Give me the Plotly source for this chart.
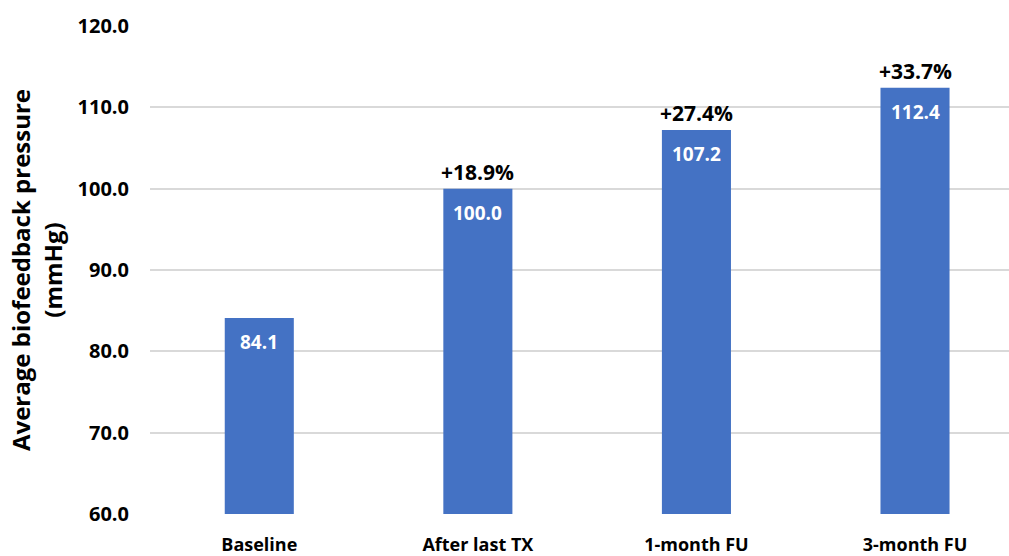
import plotly.graph_objects as go

categories = ["Baseline", "After last TX", "1-month FU", "3-month FU"]
values = [84.1, 100.0, 107.2, 112.4]
pct_labels = ["", "+18.9%", "+27.4%", "+33.7%"]
y_ticks = [60, 70, 80, 90, 100, 110, 120]

FONT = "Open Sans"

fig = go.Figure()
fig.add_trace(go.Bar(
    x=categories, y=values,
    marker=dict(color="#4472C4", line=dict(width=0)),
    cliponaxis=False,
))

for c, v, p in zip(categories, values, pct_labels):
    fig.add_annotation(x=c, y=v, text=f"<b>{v:.1f}</b>", showarrow=False,
                       yanchor="top", yshift=-9,
                       font=dict(size=19, color="white", family=FONT))
    if p:
        fig.add_annotation(x=c, y=v, text=f"<b>{p}</b>", showarrow=False,
                           yanchor="bottom", yshift=1,
                           font=dict(size=21, color="black", family=FONT))

fig.update_layout(
    width=1009, height=556,
    margin=dict(l=150, r=0, t=26, b=37),
    plot_bgcolor="white", paper_bgcolor="white",
    bargap=0.684,
    showlegend=False,
    font=dict(family=FONT, color="black"),
)
fig.update_xaxes(range=[-0.5, 3.43], showgrid=False, showline=False,
                 tickfont=dict(size=18, family=FONT, weight="bold", color="black"),
                 ticks="", ticklen=0, ticklabelstandoff=18)
fig.update_yaxes(range=[60, 120], tickvals=y_ticks,
                 ticktext=[f"{t:.1f}" for t in y_ticks],
                 showgrid=True, gridcolor="#D9D9D9", gridwidth=1.5,
                 zeroline=False, showline=False,
                 tickfont=dict(size=20, family=FONT, weight="bold", color="black"),
                 ticks="", ticklabelstandoff=20,
                 title=dict(text="Average biofeedback pressure<br>(mmHg)",
                            font=dict(size=24, family=FONT, weight="bold", color="black"),
                            standoff=8))

fig.write_html("out.html")
